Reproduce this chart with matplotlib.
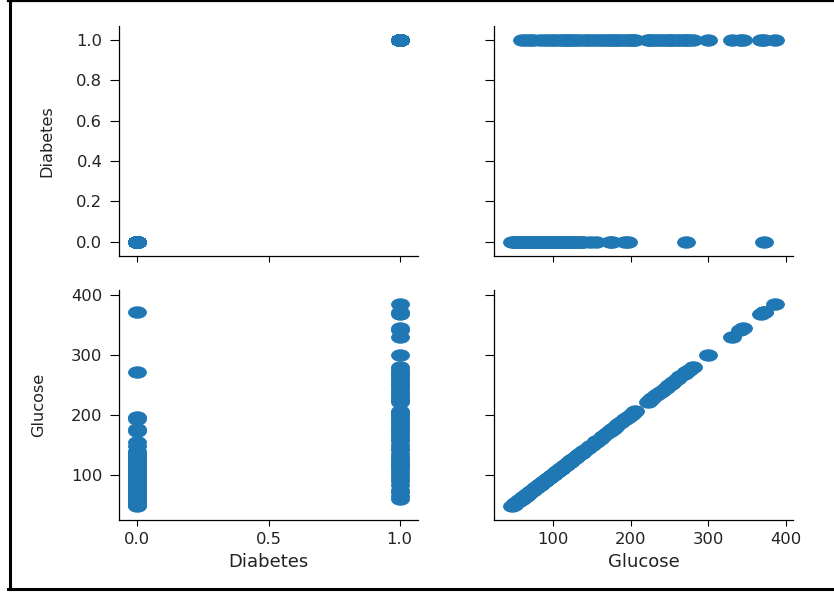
import numpy as np
import matplotlib
matplotlib.use("Agg")
import matplotlib.pyplot as plt
from matplotlib.path import Path
from matplotlib.transforms import Affine2D
from matplotlib.lines import Line2D

# Glucose readings, split by diabetes outcome
glucose_no = [48, 50, 52, 54, 56, 57, 59, 60, 62, 63, 64, 65, 66, 67, 68, 69, 70, 71,
              72, 73, 74, 75, 76, 77, 78, 79, 80, 81, 82, 83, 84, 85, 86, 87, 88, 89,
              90, 91, 92, 93, 94, 95, 96, 97, 98, 99, 100, 101, 102, 103, 104, 105,
              106, 107, 108, 109, 110, 111, 112, 113, 114, 115, 116, 117, 118, 119,
              120, 121, 122, 124, 125, 126, 128, 130, 131, 134, 137, 139, 148, 155,
              173, 176, 193, 197, 271, 371]
glucose_yes = [60, 65, 71, 75, 83, 90, 95, 100, 104, 110, 113, 117, 119, 122, 126, 130,
               135, 141, 145, 150, 156, 160, 165, 170, 173, 177, 180, 184, 188, 193,
               197, 200, 203, 206, 222, 225, 228, 233, 236, 240, 245, 249, 252, 255,
               260, 264, 268, 271, 275, 280, 300, 330, 341, 345, 368, 371, 385]

glucose = np.array(glucose_no + glucose_yes, dtype=float)
diabetes = np.array([0] * len(glucose_no) + [1] * len(glucose_yes), dtype=float)

columns = {"Diabetes": diabetes, "Glucose": glucose}
names = ["Diabetes", "Glucose"]

plt.rcParams["font.family"] = "DejaVu Sans"
plt.rcParams["xtick.major.size"] = 4.3
plt.rcParams["ytick.major.size"] = 6.5
plt.rcParams["xtick.major.pad"] = 4
plt.rcParams["ytick.major.pad"] = 5.5
plt.rcParams["axes.linewidth"] = 0.9

color = "#1f77b4"
ellipse = Path.unit_circle().transformed(Affine2D().scale(1.0, 0.66))


def limits(v):
    lo, hi = v.min(), v.max()
    pad = (hi - lo) * 0.07
    return lo - pad, hi + pad


fig = plt.figure(figsize=(8.34, 5.92), dpi=100)

lefts = [0.1427, 0.5923]
bottoms = [0.5676, 0.1216]
w, h = 0.3585, 0.389

ylab_x = {"Diabetes": -0.215, "Glucose": -0.245}

for i, yname in enumerate(names):
    for j, xname in enumerate(names):
        ax = fig.add_axes([lefts[j], bottoms[i], w, h])
        ax.scatter(columns[xname], columns[yname], s=185, marker=ellipse,
                   color=color, linewidths=0)
        ax.set_xlim(limits(columns[xname]))
        ax.set_ylim(limits(columns[yname]))
        ax.spines["top"].set_visible(False)
        ax.spines["right"].set_visible(False)
        ax.tick_params(labelsize=11.8, labelcolor="#222222")
        if xname == "Diabetes":
            ax.set_xticks([0.0, 0.5, 1.0])
        else:
            ax.set_xticks([100, 200, 300, 400])
        if yname == "Diabetes":
            ax.set_yticks([0.0, 0.2, 0.4, 0.6, 0.8, 1.0])
        else:
            ax.set_yticks([100, 200, 300, 400])
        if i == 1:
            ax.set_xlabel(xname, fontsize=13, color="#222222")
            ax.xaxis.set_label_coords(0.5, -0.145)
        else:
            ax.tick_params(labelbottom=False)
        if j == 0:
            ax.set_ylabel(yname, fontsize=11.6, color="#222222")
            ax.yaxis.set_label_coords(ylab_x[yname], 0.5)
        else:
            ax.tick_params(labelleft=False)

# black frame around the picture
W, H = 834, 592
fig.add_artist(Line2D([9.5 / W, 9.5 / W], [1 - 1 / H, 1 - 589 / H],
                      color="black", lw=2.2, transform=fig.transFigure))
fig.add_artist(Line2D([8 / W, 1], [1 - 1 / H, 1 - 1 / H],
                      color="black", lw=1.6, transform=fig.transFigure))
fig.add_artist(Line2D([8 / W, 1], [1 - 589 / H, 1 - 589 / H],
                      color="black", lw=2.2, transform=fig.transFigure))

fig.savefig("out.png", dpi=100)
